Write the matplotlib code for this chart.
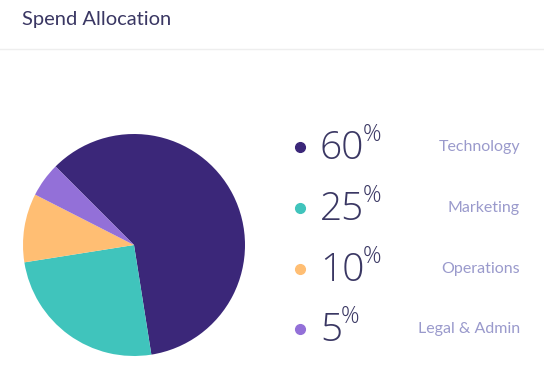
import matplotlib
matplotlib.use("Agg")
import matplotlib.pyplot as plt
from matplotlib.lines import Line2D

categories = ["Technology", "Marketing", "Operations", "Legal & Admin"]
shares = [60, 25, 10, 5]
colors = ["#3b2779", "#40c4bc", "#ffbe73", "#9370d8"]

W, H = 544, 372
fig = plt.figure(figsize=(W / 100, H / 100), dpi=100)
fig.patch.set_facecolor("white")

def fx(px):
    return px / W

def fy(py):
    return 1 - py / H

# header
fig.text(fx(22), fy(25), "Spend Allocation", fontsize=14.5, color="#3a3763",
         family=["Lato", "DejaVu Sans"], va="baseline")
fig.add_artist(Line2D([0, 1], [fy(49), fy(49)], color="#eeeeee", lw=1))

# pie
cx, cy, r = 134, 245, 111
ax = fig.add_axes([fx(cx - r), fy(cy + r), 2 * r / W, 2 * r / H])
ax.pie(shares, colors=colors, startangle=135, counterclock=False,
       wedgeprops=dict(linewidth=0))
ax.set_xlim(-1, 1)
ax.set_ylim(-1, 1)
ax.set_aspect("equal")
ax.axis("off")

# legend
num_font = ["Open Sans", "DejaVu Sans"]
rows = [147, 208, 269, 329]
for y, cat, val, col in zip(rows, categories, shares, colors):
    fig.add_artist(Line2D([fx(300)], [fy(y)], marker="o", markersize=7,
                          color=col, linestyle="none"))
    num = fig.text(fx(320), fy(y + 12), str(val), fontsize=28, color="#3a3763",
                   family=num_font, weight="light", va="baseline")
    ax.annotate("%", xy=(1, 1), xycoords=num, xytext=(-1, 5),
                textcoords="offset points", fontsize=16.5, color="#3a3763",
                family=num_font, weight="light",
                ha="left", va="top", annotation_clip=False)
    fig.text(fx(520), fy(y), cat, fontsize=11.5, color="#9a9acc",
             family=["Lato", "DejaVu Sans"], ha="right", va="center")

fig.savefig("out.png", dpi=100, facecolor="white")
